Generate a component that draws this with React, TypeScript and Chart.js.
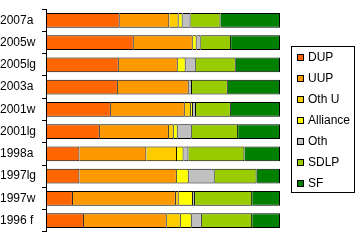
import React, { useEffect, useRef } from "react";
import { Chart, registerables } from "chart.js";

Chart.register(...registerables);

const categories = ["2007a", "2005w", "2005lg", "2003a", "2001w", "2001lg", "1998a", "1997lg", "1997w", "1996 f"];
const seriesNames = ["DUP", "UUP", "Oth U", "Alliance", "Oth", "SDLP", "SF"];
const seriesColors = ["#FF6600", "#FF9900", "#FFCC00", "#FFFF00", "#C0C0C0", "#99CC00", "#008000"];

const dup = [31.5, 37.5, 31.1, 30.7, 27.7, 23.0, 14.3, 14.3, 11.5, 16.2];
const uup = [21.2, 25.2, 25.2, 30.3, 31.6, 29.5, 28.6, 41.6, 44.0, 35.4];
const othU = [4.0, 0, 0, 0, 2.6, 2.1, 13.1, 0, 1.2, 6.0];
const alliance = [1.7, 1.7, 3.4, 0, 0.9, 1.7, 2.8, 5.1, 6.1, 4.7];
const oth = [3.4, 1.7, 4.3, 1.4, 1.3, 6.0, 2.1, 11.1, 0.9, 4.3];
const sdlp = [12.8, 13.0, 17.1, 15.3, 14.9, 19.8, 23.9, 17.9, 24.4, 21.5];
const sf = [25.4, 20.9, 18.9, 22.3, 21.0, 17.9, 15.2, 10.0, 11.9, 11.9];

const seriesValues = [dup, uup, othU, alliance, oth, sdlp, sf];

const FONT = '"Liberation Sans", Arial, sans-serif';

const boxLegend = {
  id: "boxLegend",
  afterDraw(chart: any) {
    const ctx = chart.ctx;
    ctx.save();
    ctx.strokeStyle = "#000";
    ctx.lineWidth = 1;
    ctx.strokeRect(291.5, 46.5, 63, 146);
    ctx.font = `12px ${FONT}`;
    ctx.textBaseline = "middle";
    ctx.textAlign = "left";
    chart.data.datasets.forEach((ds: any, i: number) => {
      const cy = 57 + i * 21.1;
      const top = Math.round(cy - 3.5);
      ctx.fillStyle = "#000";
      ctx.fillRect(297, top, 7, 7);
      ctx.fillStyle = ds.backgroundColor;
      ctx.fillRect(298, top + 1, 5, 5);
      ctx.fillStyle = "#000";
      ctx.fillText(ds.label, 308, cy + 0.5);
    });
    ctx.restore();
  },
};

export default function App() {
  const ref = useRef<HTMLCanvasElement | null>(null);
  useEffect(() => {
    if (!ref.current) return;
    const chart = new Chart(ref.current, {
      type: "bar",
      data: {
        labels: categories,
        datasets: seriesNames.map((name, i) => ({
          label: name,
          data: seriesValues[i],
          backgroundColor: seriesColors[i],
          borderColor: "#000",
          borderWidth: { top: 1, bottom: 1, right: 1, left: i === 0 ? 1 : 0 },
          borderSkipped: false,
          barPercentage: 2 / 3,
          categoryPercentage: 1,
        })),
      },
      options: {
        indexAxis: "y",
        responsive: false,
        animation: false,
        layout: { padding: { left: 0, right: 77, top: 0, bottom: 1 } },
        plugins: { legend: { display: false }, tooltip: { enabled: false } },
        scales: {
          x: { stacked: true, display: false, min: 0, max: 100 },
          y: {
            stacked: true,
            afterFit: (scale: any) => {
              scale.width = 46;
            },
            grid: {
              display: true,
              drawOnChartArea: false,
              drawTicks: true,
              tickLength: 4,
              color: "#000",
              offset: true,
            },
            border: { display: true, color: "#000" },
            ticks: {
              crossAlign: "far",
              color: "#000",
              font: { family: FONT, size: 12 },
              padding: 2,
            },
          },
        },
      },
      plugins: [boxLegend],
    });
    return () => chart.destroy();
  }, []);
  return (
    <div style={{ position: "fixed", left: 0, top: 0, width: 357, height: 241, background: "#fff" }}>
      <canvas ref={ref} width={357} height={241} style={{ display: "block" }} />
    </div>
  );
}
